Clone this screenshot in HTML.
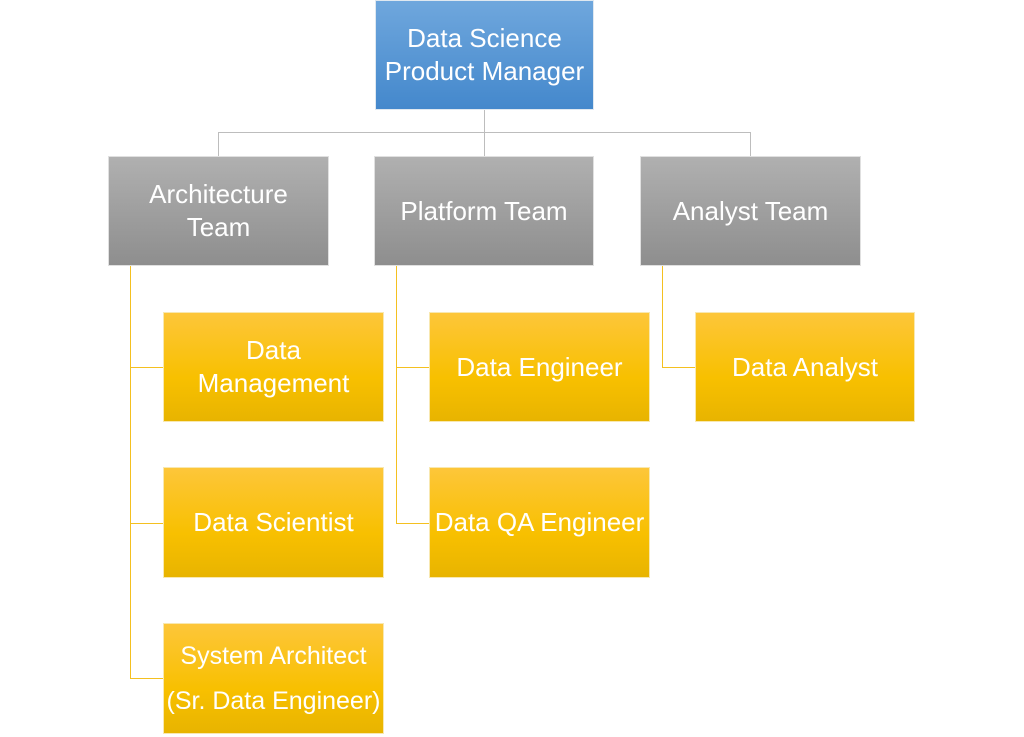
<!DOCTYPE html>
<html><head><style>
body{margin:0;width:1024px;height:737px;background:#fff;position:relative;overflow:hidden;font-family:"Liberation Sans",sans-serif}
.b{position:absolute;display:flex;align-items:center;justify-content:center;text-align:center;color:#fff;font-size:26px;line-height:33px;box-sizing:border-box;white-space:nowrap}
.blue{background:linear-gradient(#6fa7dd,#4488cc);border:1px solid #dfe8f0}
.grey{background:linear-gradient(#b0b0b0,#8e8e8e);border:1px solid #e0e0e0}
.yel{background:linear-gradient(#fdc63a,#f8c000 60%,#e8b400);border:1px solid #f8e8b0}
.l{position:absolute;background:#bdbdbd}
.y{position:absolute;background:#f4c020}
</style></head><body>
<div class="l" style="left:484px;top:109px;width:1px;height:48px"></div>
<div class="l" style="left:218px;top:132px;width:533px;height:1px"></div>
<div class="l" style="left:218px;top:132px;width:1px;height:25px"></div>
<div class="l" style="left:750px;top:132px;width:1px;height:25px"></div>
<div class="y" style="left:130px;top:265px;width:1px;height:414px"></div>
<div class="y" style="left:130px;top:367px;width:34px;height:1px"></div>
<div class="y" style="left:130px;top:523px;width:34px;height:1px"></div>
<div class="y" style="left:130px;top:678px;width:34px;height:1px"></div>
<div class="y" style="left:396px;top:265px;width:1px;height:259px"></div>
<div class="y" style="left:396px;top:367px;width:34px;height:1px"></div>
<div class="y" style="left:396px;top:523px;width:34px;height:1px"></div>
<div class="y" style="left:662px;top:265px;width:1px;height:103px"></div>
<div class="y" style="left:662px;top:367px;width:34px;height:1px"></div>
<div class="b blue" style="left:375px;top:0;width:219px;height:110px">Data Science<br>Product Manager</div>
<div class="b grey" style="left:108px;top:156px;width:221px;height:110px">Architecture<br>Team</div>
<div class="b grey" style="left:374px;top:156px;width:220px;height:110px">Platform Team</div>
<div class="b grey" style="left:640px;top:156px;width:221px;height:110px">Analyst Team</div>
<div class="b yel" style="left:163px;top:312px;width:221px;height:110px">Data<br>Management</div>
<div class="b yel" style="left:163px;top:467px;width:221px;height:111px">Data Scientist</div>
<div class="b yel" style="left:163px;top:623px;width:221px;height:111px;line-height:45px;font-size:25px">System Architect<br>(Sr. Data Engineer)</div>
<div class="b yel" style="left:429px;top:312px;width:221px;height:110px">Data Engineer</div>
<div class="b yel" style="left:429px;top:467px;width:221px;height:111px">Data QA Engineer</div>
<div class="b yel" style="left:695px;top:312px;width:220px;height:110px">Data Analyst</div>
</body></html>
